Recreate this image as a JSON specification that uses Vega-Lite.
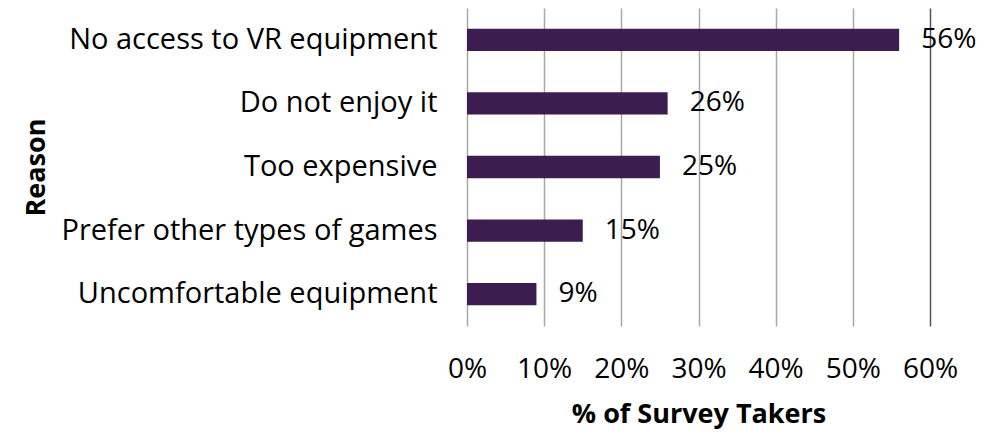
{
  "$schema": "https://vega.github.io/schema/vega-lite/v6.json",
  "width": 463,
  "height": 318,
  "autosize": {"type": "none"},
  "padding": {"left": 467, "top": 8, "right": 73, "bottom": 110},
  "background": "white",
  "data": {"values": [
    {"reason": "No access to VR equipment", "pct": 0.56},
    {"reason": "Do not enjoy it ", "pct": 0.26},
    {"reason": "Too expensive", "pct": 0.25},
    {"reason": "Prefer other types of games", "pct": 0.15},
    {"reason": "Uncomfortable equipment", "pct": 0.09}
  ]},
  "config": {
    "font": "Open Sans",
    "view": {"stroke": null}
  },
  "encoding": {
    "y": {
      "field": "reason", "type": "nominal", "sort": "-x",
      "scale": {"paddingInner": 0.65, "paddingOuter": 0.325},
      "axis": {
        "title": "Reason", "titleFontSize": 27, "titleFontWeight": "bold", "titleColor": "#000",
        "titleX": -431, "titleY": 159, "titleAngle": -90, "titleAlign": "center", "titleBaseline": "middle",
        "labelFontSize": 29, "labelColor": "#000", "labelPadding": 30, "labelFontWeight": "normal",
        "labelLimit": 600,
        "ticks": false, "domain": false, "grid": false
      }
    },
    "x": {
      "field": "pct", "type": "quantitative",
      "scale": {"domain": [0, 0.6], "nice": false},
      "axis": {
        "format": ".0%", "values": [0, 0.1, 0.2, 0.3, 0.4, 0.5, 0.6],
        "title": "% of Survey Takers", "titleFontSize": 27, "titleFontWeight": "bold", "titleColor": "#000",
        "titlePadding": 18,
        "labelFontSize": 28, "labelColor": "#000", "labelPadding": 29, "labelFlush": false,
        "ticks": false, "domain": false, "grid": true,
        "gridColor": {"condition": {"test": "datum.value >= 0.59", "value": "#555555"}, "value": "#a8a8a8"},
        "gridWidth": 1.5
      }
    }
  },
  "layer": [
    {"mark": {"type": "bar", "color": "#3b1d50"}},
    {
      "mark": {"type": "text", "align": "left", "dx": 22, "fontSize": 28, "color": "#000", "baseline": "middle"},
      "encoding": {"text": {"field": "pct", "type": "quantitative", "format": ".0%"}}
    }
  ]
}
